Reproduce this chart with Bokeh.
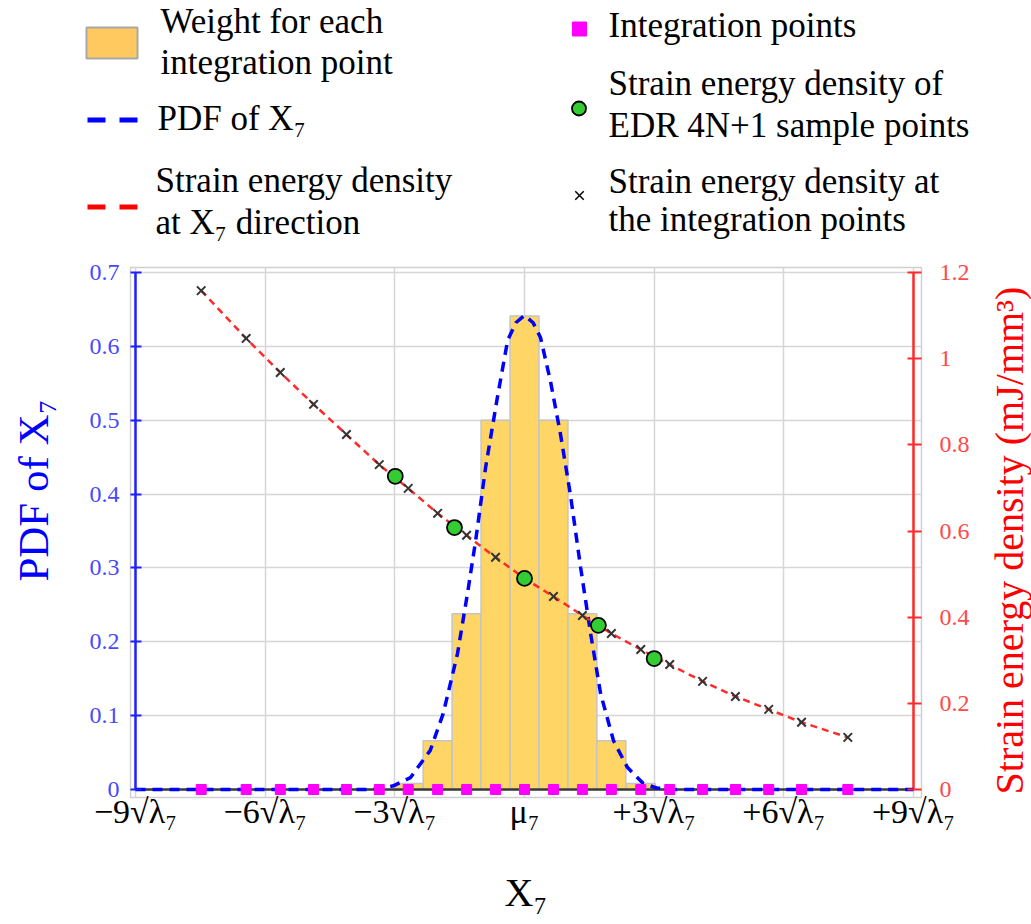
import math
from bokeh.plotting import figure
from bokeh.models import Range1d, LinearAxis, FixedTicker, CustomJSTickFormatter
from bokeh.layouts import row
from bokeh.embed import file_html
from bokeh.resources import INLINE
from bokeh.core.properties import value

# ---------------- data ----------------
x_ticks = [-9, -6, -3, 0, 3, 6, 9]
x_tick_labels = ["−9√λ₇", "−6√λ₇", "−3√λ₇", "μ₇", "+3√λ₇", "+6√λ₇", "+9√λ₇"]
pdf_ticks = [0, 0.1, 0.2, 0.3, 0.4, 0.5, 0.6, 0.7]
sed_ticks = [0, 0.2, 0.4, 0.6, 0.8, 1.0, 1.2]

integration_x = [-7.48, -6.44, -5.65, -4.88, -4.12, -3.36, -2.69, -2.01, -1.34, -0.67, 0.0,
                 0.67, 1.34, 2.01, 2.69, 3.36, 4.12, 4.88, 5.65, 6.41, 7.48]
integration_weight = [0, 0, 0, 0, 0, 0, 0.008, 0.066, 0.238, 0.500, 0.641,
                      0.500, 0.238, 0.066, 0.008, 0, 0, 0, 0, 0, 0]
integration_sed = [1.158, 1.047, 0.968, 0.894, 0.824, 0.754, 0.699, 0.641, 0.590, 0.539, 0.490,
                   0.448, 0.404, 0.362, 0.325, 0.290, 0.251, 0.216, 0.186, 0.156, 0.121]

edr_x = [-2.99, -1.62, 0.0, 1.71, 3.0]
edr_sed = [0.727, 0.608, 0.490, 0.381, 0.304]

pdf_x = [-9.0, -3.6, -3.38, -3.03, -2.64, -2.18, -1.88, -1.55, -1.32, -1.13, -0.90, -0.63, -0.39,
         -0.2, 0.0, 0.2, 0.37, 0.60, 0.83, 1.06, 1.30, 1.53, 1.76, 2.06, 2.38, 2.75, 3.06, 3.5, 9.0]
pdf_y = [0.0, 0.0, 0.001, 0.005, 0.016, 0.053, 0.103, 0.184, 0.265, 0.337, 0.436, 0.530, 0.608,
         0.632, 0.642, 0.632, 0.612, 0.553, 0.482, 0.400, 0.300, 0.211, 0.130, 0.066, 0.030, 0.008,
         0.002, 0.0, 0.0]

# ---------------- styling ----------------
SERIF = "Liberation Serif"
BLUE = "#1F1FFF"
RED = "#FF2A2A"
BAR_FILL = "#FFD666"
GREEN = "#33CC33"
MAGENTA = "#FF00FF"
XMARK = "#333333"

W, H = 1031, 924
LEG_H = 250
MAIN_H = H - LEG_H
LEFT_W = 70            # strip holding the left axis title
RIGHT_X = 976          # page x where the right title strip starts
RIGHT_W = W - RIGHT_X
MAIN_W = RIGHT_X - LEFT_W

X_MIN, X_MAX = x_ticks[0], x_ticks[-1]
Y_MAX = pdf_ticks[-1]
SED_MAX = sed_ticks[-1]

# frame (light grey box, page pixels) and padding around the axis box
PAD_L, PAD_R, PAD_T, PAD_B = 5, 8, 5, 8
FRAME_L, FRAME_R, FRAME_T, FRAME_B = 130, 921, 267, 797
fw = FRAME_R - FRAME_L
fh = FRAME_B - FRAME_T
ux = (fw - PAD_L - PAD_R) / (X_MAX - X_MIN)
uy = (fh - PAD_T - PAD_B) / Y_MAX
x0 = X_MIN - PAD_L / ux
x1 = X_MAX + PAD_R / ux
y0 = -PAD_B / uy
y1 = Y_MAX + PAD_T / uy
k = SED_MAX / Y_MAX

# ---------------- main figure ----------------
p = figure(width=MAIN_W, height=MAIN_H, output_backend="svg", toolbar_location=None,
           x_range=Range1d(x0, x1), y_range=Range1d(y0, y1),
           min_border_left=FRAME_L - LEFT_W, min_border_right=RIGHT_X - FRAME_R,
           min_border_top=FRAME_T - LEG_H, min_border_bottom=H - FRAME_B,
           background_fill_color="white", border_fill_color="white")
p.outline_line_color = "#D0D0D0"
p.outline_line_width = 1.5
p.extra_y_ranges = {"sed": Range1d(y0 * k, y1 * k)}

# grids
p.xgrid.ticker = FixedTicker(ticks=x_ticks)
p.ygrid.ticker = FixedTicker(ticks=pdf_ticks)
p.grid.grid_line_color = "#D6D6D6"
p.grid.grid_line_width = 1.5

# bottom axis
xa = p.xaxis[0]
xa.ticker = FixedTicker(ticks=x_ticks)
xa.major_label_overrides = {t: lab for t, lab in zip(x_ticks, x_tick_labels)}
xa.axis_line_color = None
xa.major_tick_line_color = None
xa.minor_tick_line_color = None
xa.major_label_text_font = SERIF
xa.major_label_text_font_size = "34px"
xa.major_label_text_color = "black"
xa.major_label_standoff = -11
xa.axis_label = "X₇"
xa.axis_label_text_font = SERIF
xa.axis_label_text_font_style = "normal"
xa.axis_label_text_font_size = "40px"
xa.axis_label_text_color = "black"
xa.axis_label_standoff = 37

fmt = CustomJSTickFormatter(code="return String(Math.round(tick * 10) / 10);")

# left axis
ya = p.yaxis[0]
ya.ticker = FixedTicker(ticks=pdf_ticks)
ya.formatter = fmt
ya.axis_line_color = None
ya.major_tick_in = 11
ya.major_tick_out = 0
ya.major_tick_line_color = BLUE
ya.major_tick_line_width = 2
ya.minor_tick_line_color = None
ya.major_label_text_font = SERIF
ya.major_label_text_font_size = "24px"
ya.major_label_text_color = "#4848FF"
ya.major_label_standoff = 11

# right axis
ra = LinearAxis(y_range_name="sed")
ra.ticker = FixedTicker(ticks=sed_ticks)
ra.formatter = fmt
ra.axis_line_color = None
ra.major_tick_in = 14
ra.major_tick_out = 0
ra.major_tick_line_color = RED
ra.major_tick_line_width = 2
ra.minor_tick_line_color = None
ra.major_label_text_font = SERIF
ra.major_label_text_font_size = "24px"
ra.major_label_text_color = "#FF4848"
ra.major_label_standoff = 18
p.add_layout(ra, "right")

# weights (histogram bars)
bx = [x for x, w in zip(integration_x, integration_weight) if w > 0]
bw = [w for w in integration_weight if w > 0]
bar_width = integration_x[11] - integration_x[10]
p.vbar(x=bx, top=bw, bottom=0, width=bar_width, fill_color=BAR_FILL,
       line_color="#C4C4C4", line_width=1.5)

# axis lines drawn at the axis limits
p.line(x=[X_MIN, X_MAX], y=[0, 0], line_color="#3A3A3A", line_width=2.5)
p.line(x=[X_MIN, X_MIN], y=[0, Y_MAX], line_color=BLUE, line_width=2.5)
p.line(x=[X_MAX, X_MAX], y=[0, SED_MAX], line_color=RED, line_width=2.5, y_range_name="sed")

# PDF curve
p.line(x=pdf_x, y=pdf_y, line_color="#0000FF", line_width=3.5, line_dash="10 7")

# strain energy density curve
p.line(x=integration_x, y=integration_sed, line_color=RED, line_width=2.5,
       line_dash="7 5", y_range_name="sed")
p.scatter(x=integration_x, y=integration_sed, marker="x", size=12, line_color=XMARK,
          line_width=2, y_range_name="sed")
p.scatter(x=edr_x, y=edr_sed, marker="circle", size=15, fill_color=GREEN,
          line_color="black", line_width=1.8, y_range_name="sed")

# integration points
p.scatter(x=integration_x, y=[0] * len(integration_x), marker="square", size=10,
          fill_color=MAGENTA, line_color=MAGENTA)


# ---------------- side strips for the vertical axis titles (page-pixel coords) ----------------
def strip(width, xstart):
    f = figure(width=width, height=MAIN_H, output_backend="svg", toolbar_location=None,
               x_range=Range1d(xstart, xstart + width), y_range=Range1d(FRAME_B, FRAME_T),
               x_axis_type=None, y_axis_type=None, min_border=0,
               min_border_left=0, min_border_right=0,
               min_border_top=FRAME_T - LEG_H, min_border_bottom=H - FRAME_B)
    f.outline_line_color = None
    f.grid.visible = False
    return f


left = strip(LEFT_W, 0)
left.text(x=[33], y=[490], text=["PDF of X₇"], angle=math.pi / 2, text_align="center",
          text_baseline="middle", text_font=value(SERIF), text_font_size="43px",
          text_color="#0000FF")

right = strip(RIGHT_W, RIGHT_X)
right.text(x=[1009], y=[540], text=["Strain energy density (mJ/mm³)"], angle=math.pi / 2,
           text_align="center", text_baseline="middle", text_font=value(SERIF),
           text_font_size="40px", text_color="#FF0000")

# ---------------- legend figure (own root, page-pixel coordinates) ----------------
lg = figure(width=W, height=LEG_H, output_backend="svg", toolbar_location=None,
            x_range=Range1d(0, W), y_range=Range1d(LEG_H, 0),
            x_axis_type=None, y_axis_type=None, min_border=0,
            min_border_left=0, min_border_right=0, min_border_top=0, min_border_bottom=0)
lg.outline_line_color = None
lg.grid.visible = False

LF = "35px"


def txt(x, y, s):
    lg.text(x=[x], y=[y], text=[s], text_font=value(SERIF), text_font_size=LF,
            text_baseline="middle", text_align="left", text_color="black")


lg.rect(x=[111.5], y=[42.5], width=51, height=31, fill_color="#FFC95F", line_color="#A8A8A8",
        line_width=2)
txt(160, 21, "Weight for each")
txt(160, 62, "integration point")
lg.line(x=[87, 138], y=[119.5, 119.5], line_color="#0000FF", line_width=5, line_dash="18 14")
txt(157, 118, "PDF of X₇")
lg.line(x=[87, 138], y=[206.5, 206.5], line_color="#FF0000", line_width=5, line_dash="18 14")
txt(155, 180, "Strain energy density")
txt(155, 222, "at X₇ direction")

lg.scatter(x=[579], y=[28.5], marker="square", size=14, fill_color=MAGENTA, line_color=MAGENTA)
txt(608, 25, "Integration points")
lg.scatter(x=[578.5], y=[108], marker="circle", size=14, fill_color=GREEN, line_color="black",
           line_width=1.8)
txt(608, 83, "Strain energy density of")
txt(608, 125, "EDR 4N+1 sample points")
lg.scatter(x=[579], y=[195], marker="x", size=12, line_color="black", line_width=1.5)
txt(608, 181, "Strain energy density at")
txt(608, 219, "the integration points")

body = row(left, p, right, spacing=0)
open("out.html", "w").write(file_html([lg, body], INLINE))
